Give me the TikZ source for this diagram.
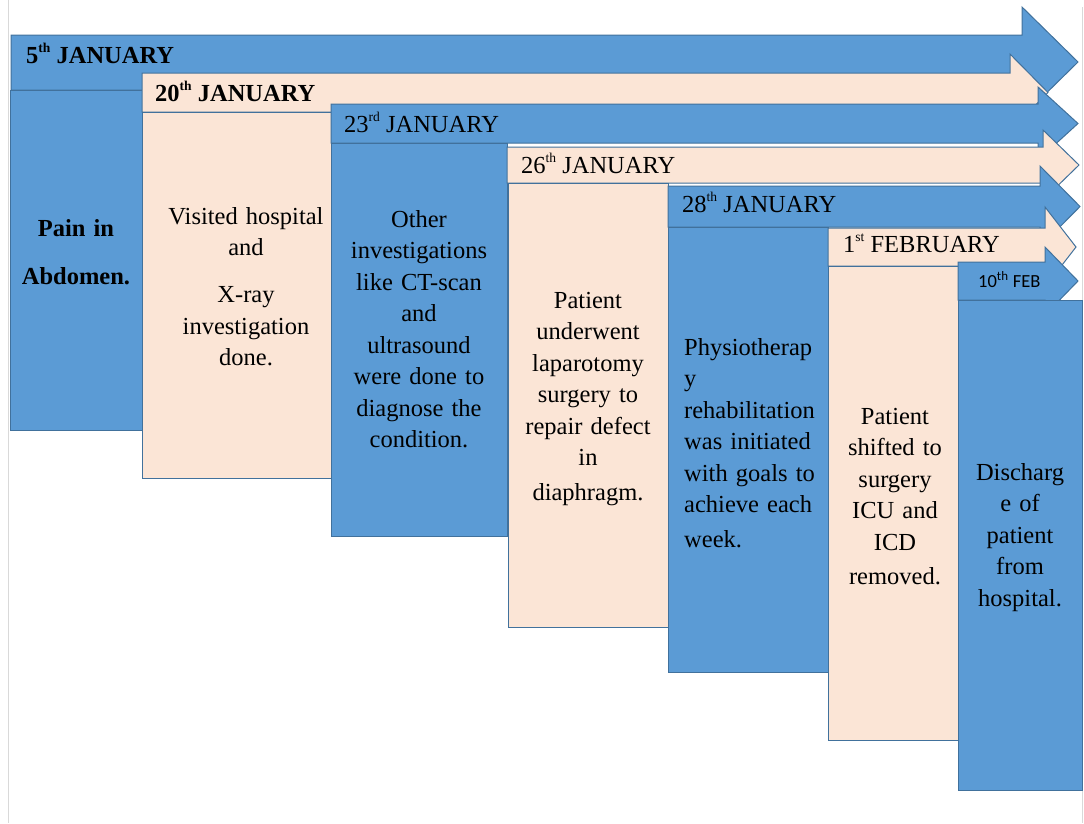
\documentclass[tikz,border=0pt]{standalone}
\usepackage{fontspec}
\setmainfont{Liberation Serif}
\newfontfamily\sansfeb{Carlito}

\definecolor{stepblue}{HTML}{5B9BD5}
\definecolor{steppeach}{HTML}{FBE5D6}
\definecolor{stepline}{HTML}{41719C}
\definecolor{pageline}{HTML}{D9D9D9}

\newcommand{\ordsup}[1]{\raisebox{0.42em}{\fontsize{13.5}{14}\selectfont #1}}

\begin{document}
\begin{tikzpicture}
    [
      x=1pt, y=-1pt,
      every node/.style = {font=\fontsize{24.5}{31.5}\selectfont, inner sep=0pt},
      bluebox/.style = {fill=stepblue, draw=stepline, line width=1pt},
      peachbox/.style = {fill=steppeach, draw=stepline, line width=1pt},
      column/.style = {anchor=north west, minimum width=#1},
      datelabel/.style = {anchor=base west},
      coltext/.style = {anchor=base, align=center, text width=#1}
    ]

    \useasboundingbox (0,0) rectangle (1084,823);
    % page edges
    \draw[pageline] (8,0) -- (8,823);
    \draw[pageline] (1082,7) -- (1082,823);

    % 5th January
    \draw[bluebox] (11,35) -- (1022,35) -- (1022,7) -- (1078,62) -- (1022,117) -- (1022,90) -- (11,90) -- cycle;
    \node[bluebox, column=132pt, minimum height=340pt] (painbox) at (10,90) {};

    % 20th January
    \draw[peachbox] (142,73) -- (1010,73) -- (1010,54) -- (1048,92.5) -- (1010,131) -- (1010,112) -- (142,112) -- cycle;
    \node[peachbox, column=189pt, minimum height=366pt] (xraybox) at (142,112) {};

    % 23rd January
    \draw[bluebox] (331,104) -- (1038,104) -- (1038,87) -- (1078,123.5) -- (1038,160) -- (1038,143) -- (331,143) -- cycle;
    \node[bluebox, column=176pt, minimum height=393pt] (ctbox) at (331,143) {};

    % 26th January
    \draw[peachbox] (507,147) -- (1043,147) -- (1043,130) -- (1079,165) -- (1043,200) -- (1043,183) -- (507,183) -- cycle;
    \node[peachbox, column=160pt, minimum height=444pt] (surgerybox) at (508,183) {};

    % 28th January
    \draw[bluebox] (668,186) -- (1040,186) -- (1040,166) -- (1080,206.5) -- (1040,247) -- (1040,227) -- (668,227) -- cycle;
    \node[bluebox, column=160pt, minimum height=445pt] (physiobox) at (668,227) {};

    % 1st February
    \draw[peachbox] (828,228) -- (1045,228) -- (1045,207) -- (1076,247) -- (1045,287) -- (1045,266) -- (828,266) -- cycle;
    \node[peachbox, column=130pt, minimum height=474pt] (icubox) at (828,266) {};

    % 10th Feb
    \draw[bluebox] (958,262) -- (1045,262) -- (1045,247) -- (1078,281) -- (1045,315) -- (1045,300) -- (958,300) -- cycle;
    \node[bluebox, column=124pt, minimum height=490pt] (dischargebox) at (958,300) {};

    % dates
    \node[datelabel] (jan5) at (26,63) {\textbf{5\ordsup{th} JANUARY}};
    \node[datelabel] (jan20) at (155,101) {\textbf{20\ordsup{th} JANUARY}};
    \node[datelabel] (jan23) at (344,132) {23\ordsup{rd} JANUARY};
    \node[datelabel] (jan26) at (521,173) {26\ordsup{th} JANUARY};
    \node[datelabel] (jan28) at (682,212) {28\ordsup{th} JANUARY};
    \node[datelabel] (feb1) at (843,252) {1\ordsup{st} FEBRUARY};
    \node[datelabel, font=\sansfeb\fontsize{18.5}{20}\selectfont] (feb10) at (978,287) {10\textsuperscript{th} FEB};

    % events
    \node[coltext=130pt] (paintext) at (76,236) {\textbf{Pain in}\\[16.5pt]\textbf{Abdomen.}};
    \node[coltext=180pt] (xraytext) at (246,224) {Visited hospital\\and\\[15.5pt]X-ray\\investigation\\done.};
    \node[coltext=170pt] (cttext) at (419,227) {Other\\investigations\\like CT-scan\\and\\ultrasound\\were done to\\diagnose the\\condition.};
    \node[coltext=160pt] (surgerytext) at (588,308) {Patient\\underwent\\laparotomy\\surgery to\\repair defect\\in\\[3pt]diaphragm.};
    \node[anchor=base west, align=left, text width=150pt] (physiotext) at (684,355) {Physiotherap\\y\\rehabilitation\\was initiated\\with goals to\\achieve each\\[3pt]week.};
    \node[coltext=130pt] (icutext) at (895,424) {Patient\\shifted to\\surgery\\ICU and\\ICD\\[3pt]removed.};
    \node[coltext=124pt] (dischargetext) at (1020,480) {Discharg\\e of\\patient\\from\\hospital.};
  \end{tikzpicture}
\end{document}
